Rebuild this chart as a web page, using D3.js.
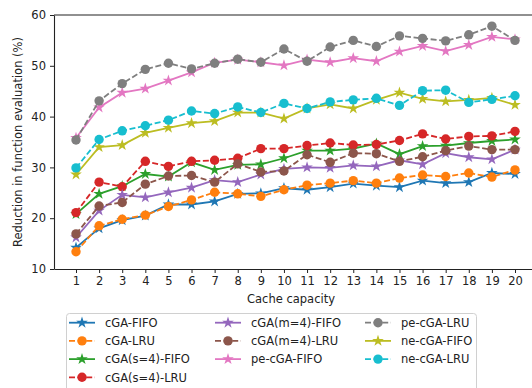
<!DOCTYPE html>
<html>
<head>
<meta charset="utf-8">
<script src="https://cdn.jsdelivr.net/npm/d3@7"></script>
<style>
  html, body { margin: 0; padding: 0; background: #fff; }
  svg { display: block; font-family: "DejaVu Sans", sans-serif; }
</style>
</head>
<body>
<svg id="chart" width="532" height="388"></svg>
<script>
// Cache capacities on the x axis
const capacities = [1,2,3,4,5,6,7,8,9,10,11,12,13,14,15,16,17,18,19,20];
const yTicks = [10, 20, 30, 40, 50, 60];

// Reduction in function evaluations (%) per policy
const cgaFifo   = [14.2,18.0,19.6,20.5,22.7,22.7,23.3,24.8,24.9,25.9,25.6,26.1,26.8,26.4,26.1,27.4,26.9,27.1,28.9,28.7];
const cgaLru    = [13.4,18.5,19.8,20.6,22.3,23.6,25.1,24.8,24.3,25.6,26.5,26.9,27.4,26.9,27.9,28.5,28.2,28.9,28.1,29.5];
const cgaS4Fifo = [20.8,24.8,26.3,28.7,28.2,31.0,29.5,30.5,30.6,31.8,33.3,33.3,33.7,34.7,32.6,34.2,34.3,34.8,35.2,35.5];
const cgaS4Lru  = [21.1,27.1,26.2,31.2,30.2,31.2,31.4,31.8,33.7,33.7,34.3,34.8,34.4,34.5,35.3,36.6,35.6,36.1,36.2,37.1];
const cgaM4Fifo = [16.2,21.5,24.6,24.1,25.1,26.0,27.5,27.1,28.6,29.7,30.0,29.9,30.4,30.2,31.4,30.6,32.8,32.0,31.6,33.5];
const cgaM4Lru  = [16.9,22.4,23.1,26.7,28.3,28.4,27.1,30.7,29.1,29.3,32.5,31.0,32.8,32.7,31.2,32.1,33.3,34.2,33.5,33.5];
const peFifo    = [35.8,41.8,44.7,45.5,47.1,48.7,50.6,51.2,50.7,50.1,51.2,50.7,51.5,50.9,52.8,53.9,52.9,54.1,55.7,55.2];
const peLru     = [35.4,43.1,46.5,49.3,50.5,49.4,50.5,51.3,50.7,53.3,50.9,53.7,55.0,53.8,55.9,55.4,54.9,56.1,57.8,55.0];
const neFifo    = [28.6,34.0,34.4,36.8,37.8,38.7,39.1,40.8,40.8,39.6,41.6,42.4,41.6,43.3,44.7,43.5,43.0,43.3,43.7,42.3];
const neLru     = [29.9,35.5,37.2,38.2,39.3,41.1,40.6,41.9,40.8,42.6,41.6,42.9,43.3,43.6,42.2,45.1,45.2,42.8,43.4,44.1];

const seriesNames = ["cGA-FIFO","cGA-LRU","cGA(s=4)-FIFO","cGA(s=4)-LRU","cGA(m=4)-FIFO",
                     "cGA(m=4)-LRU","pe-cGA-FIFO","pe-cGA-LRU","ne-cGA-FIFO","ne-cGA-LRU"];
const seriesValues = [cgaFifo,cgaLru,cgaS4Fifo,cgaS4Lru,cgaM4Fifo,cgaM4Lru,peFifo,peLru,neFifo,neLru];
const seriesColors = ["#1f77b4","#ff7f0e","#2ca02c","#d62728","#9467bd",
                      "#8c564b","#e377c2","#7f7f7f","#bcbd22","#17becf"];

const svg = d3.select("#chart");
const plotLeft = 54, plotRight = 532, plotTop = 15, plotBottom = 269;

// x domain padded so that capacity 1 and 20 sit inside the frame
const step = (515 - 76) / 19;
const x = d3.scaleLinear()
  .domain([1 - (76 - plotLeft) / step, 20 + (plotRight - 515) / step])
  .range([plotLeft, plotRight]);
const y = d3.scaleLinear().domain([10, 60]).range([plotBottom, plotTop]);

const line = d3.line().x((d, i) => x(capacities[i])).y(d => y(d));
const star = d3.symbol().type(d3.symbolStar).size(42);

seriesValues.forEach((vals, k) => {
  const isLru = k % 2 === 1;
  const g = svg.append("g");
  g.append("path")
    .datum(vals)
    .attr("d", line)
    .attr("fill", "none")
    .attr("stroke", seriesColors[k])
    .attr("stroke-width", 1.8)
    .attr("stroke-dasharray", isLru ? "6,2.6" : null);
  if (isLru) {
    g.selectAll("circle").data(vals).join("circle")
      .attr("cx", (d, i) => x(capacities[i]))
      .attr("cy", d => y(d))
      .attr("r", 4.7)
      .attr("fill", seriesColors[k]);
  } else {
    g.selectAll("path.m").data(vals).join("path")
      .attr("class", "m")
      .attr("d", star)
      .attr("transform", (d, i) => `translate(${x(capacities[i])},${y(d)})`)
      .attr("fill", seriesColors[k]);
  }
});

// Axes
const xAxis = d3.axisBottom(x).tickValues(capacities).tickSize(4).tickPadding(4).tickSizeOuter(0);
const gx = svg.append("g").attr("transform", `translate(0,${plotBottom})`).call(xAxis);
const yAxis = d3.axisLeft(y).tickValues(yTicks).tickSize(4).tickPadding(4).tickSizeOuter(0);
const gy = svg.append("g").attr("transform", `translate(${plotLeft},0)`).call(yAxis);
[gx, gy].forEach(g => {
  g.selectAll("text").attr("font-size", 11.5).attr("fill", "#222").attr("font-family", "DejaVu Sans");
  g.selectAll("line").attr("stroke", "#222");
  g.select(".domain").attr("stroke", "#222").attr("stroke-width", 1.1);
});
// top spine
svg.append("line").attr("x1", plotLeft).attr("x2", plotRight).attr("y1", plotTop).attr("y2", plotTop)
  .attr("stroke", "#222").attr("stroke-width", 1.1);

svg.append("text").attr("x", (plotLeft + plotRight) / 2 - 2).attr("y", 303)
  .attr("text-anchor", "middle").attr("font-size", 11.5).attr("fill", "#222")
  .text("Cache capacity");
svg.append("text")
  .attr("transform", `translate(22,${(plotTop + plotBottom) / 2}) rotate(-90)`)
  .attr("text-anchor", "middle").attr("font-size", 11.5).attr("fill", "#222")
  .text("Reduction in function evaluation (%)");

// Legend: three columns holding 4, 3 and 3 entries
const legend = svg.append("g");
legend.append("rect").attr("x", 66.5).attr("y", 313.5).attr("width", 410).attr("height", 90)
  .attr("rx", 3).attr("fill", "#fff").attr("stroke", "#d0d0d0");
const colX = [69, 215, 365];
const colStart = [0, 4, 7];
seriesNames.forEach((name, k) => {
  const col = k >= colStart[2] ? 2 : (k >= colStart[1] ? 1 : 0);
  const row = k - colStart[col];
  const hx = colX[col], hy = 322.7 + row * 18.2;
  const isLru = k % 2 === 1;
  const item = legend.append("g");
  item.append("line").attr("x1", hx).attr("x2", hx + 26).attr("y1", hy).attr("y2", hy)
    .attr("stroke", seriesColors[k]).attr("stroke-width", 1.8)
    .attr("stroke-dasharray", isLru ? "6,2.6" : null);
  if (isLru) {
    item.append("circle").attr("cx", hx + 13).attr("cy", hy).attr("r", 4.7).attr("fill", seriesColors[k]);
  } else {
    item.append("path").attr("d", star).attr("transform", `translate(${hx + 13},${hy})`)
      .attr("fill", seriesColors[k]);
  }
  item.append("text").attr("x", hx + 36).attr("y", hy + 4.2)
    .attr("font-size", 11.5).attr("fill", "#222").text(name);
});
</script>
</body>
</html>
